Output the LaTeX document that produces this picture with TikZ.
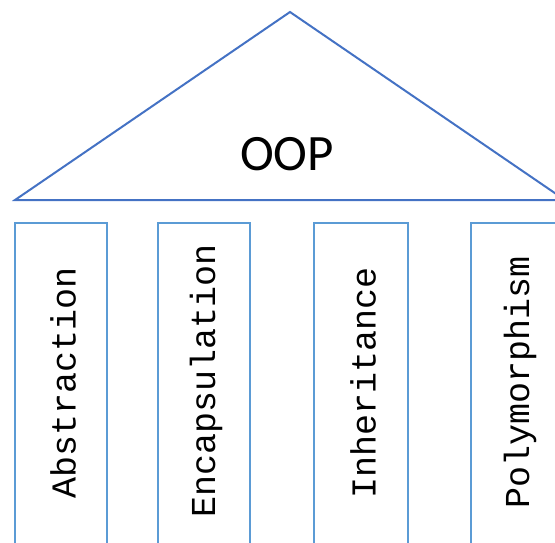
\documentclass[tikz,border=0pt]{standalone}
\usepackage{fontspec}
\setmainfont{Carlito}
\newfontfamily\pillarfont{Liberation Mono}
\begin{document}
\begin{tikzpicture}[x=1pt,y=-1pt,
  roof/.style={draw=roofblue, line width=2pt, line join=miter},
  pillar/.style={draw=pillarblue, line width=2pt},
  pillarlabel/.style={rotate=90, font=\pillarfont\fontsize{35}{40}\selectfont, text=black, inner sep=0pt},
  rooflabel/.style={font=\fontsize{51}{60}\selectfont, text=black, inner sep=0pt}]
\definecolor{roofblue}{HTML}{4472C4}
\definecolor{pillarblue}{HTML}{5B9BD5}
\useasboundingbox (0,0) rectangle (555,542);
\clip (0,0) rectangle (555,542);
\coordinate (apex) at (290,12);
\coordinate (bl) at (15,200);
\coordinate (br) at (565,200);
\draw[roof] (bl) -- (apex) -- (br) -- cycle;
\node[rooflabel] (oop) at (287,154) {OOP};
\draw[pillar] (15,560) -- (15,223) -- (107,223) -- (107,560);
\draw[pillar] (158,560) -- (158,223) -- (250,223) -- (250,560);
\draw[pillar] (314,560) -- (314,223) -- (408,223) -- (408,560);
\draw[pillar] (471,560) -- (471,223) -- (565,223) -- (565,560);
\node[pillarlabel] (abs) at (63,383) {Abstraction};
\node[pillarlabel] (enc) at (206,381) {Encapsulation};
\node[pillarlabel] (inh) at (363,383) {Inheritance};
\node[pillarlabel] (pol) at (520,382) {Polymorphism};
\end{tikzpicture}
\end{document}
